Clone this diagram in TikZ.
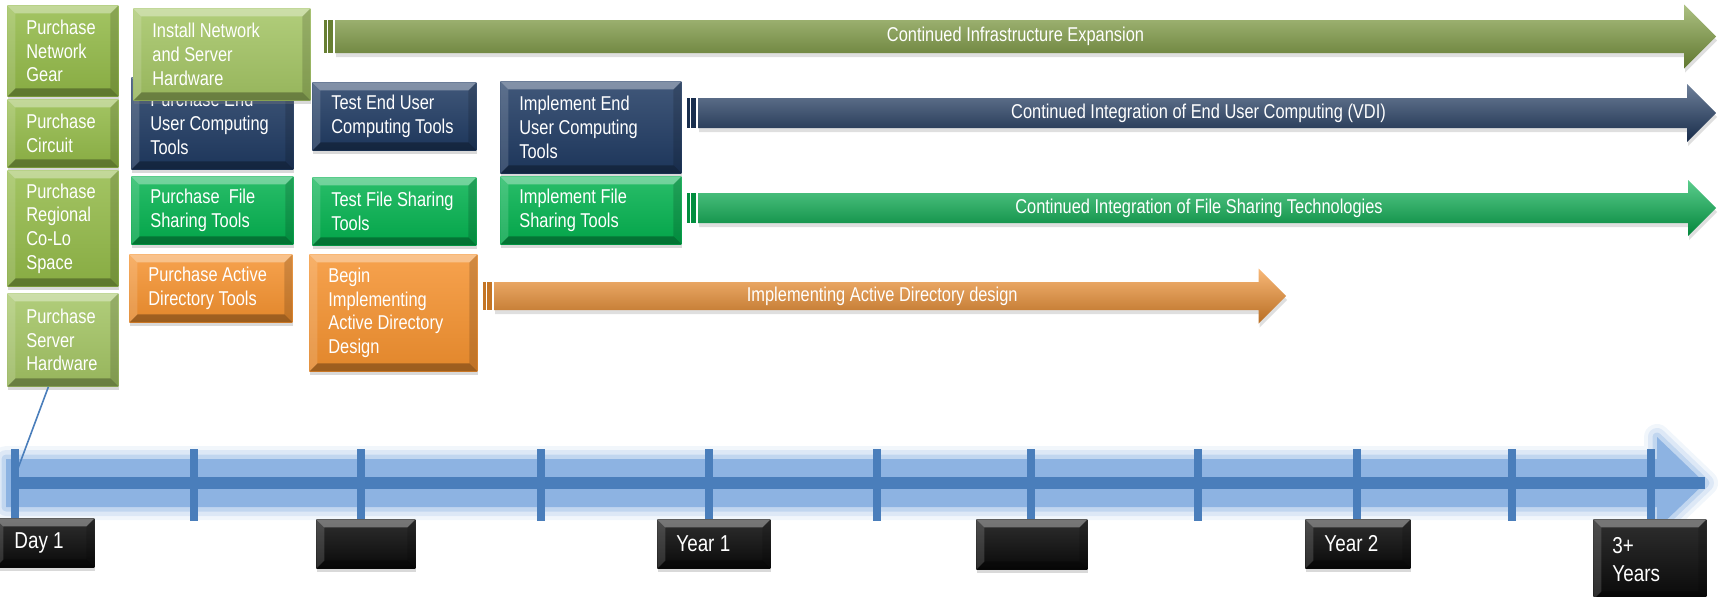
\documentclass[tikz,border=0pt]{standalone}
\usepackage{fontspec}
\setmainfont[FakeStretch=0.82]{Liberation Sans}
\usepackage{tikz}
\usetikzlibrary{calc,shadows}

\definecolor{infragreen}{HTML}{93BA48}
\definecolor{infradark}{HTML}{809F3F}
\definecolor{eucnavy}{HTML}{1F3A62}
\definecolor{filegreen}{HTML}{03B24F}
\definecolor{adorange}{HTML}{F5922F}
\definecolor{milebox}{HTML}{0A0A0A}
\definecolor{tlblue}{HTML}{4A7EBB}
\definecolor{tlband}{HTML}{8DB3E2}

\tikzset{
	bevel/.style={path picture={
		\coordinate (pnw) at (path picture bounding box.north west);
		\coordinate (pse) at (path picture bounding box.south east);
		\fill[white,opacity=.35] (pnw) -- (pse|-pnw) -- ($(pse|-pnw)+(-4pt,-4pt)$) -- ($(pnw)+(4pt,-4pt)$) -- cycle; %top
		\fill[black,opacity=.3] (pse) -- (pnw|-pse) -- ($(pnw|-pse)+(4pt,4pt)$) -- ($(pse)+(-4pt,4pt)$) -- cycle; %bottom
		\fill[white,opacity=.15] (pnw) -- ($(pnw)+(4pt,-4pt)$) -- ($(pnw|-pse)+(4pt,4pt)$) -- (pnw|-pse) -- cycle; %left
		\fill[black,opacity=.15] (pse) -- ($(pse)+(-4pt,4pt)$) -- ($(pse|-pnw)+(-4pt,-4pt)$) -- (pse|-pnw) -- cycle; %right
	}},
	task/.style={anchor=north west, rectangle, inner sep=0pt, top color=#1!85!white, bottom color=#1!92!black, bevel,
		drop shadow={shadow xshift=.5pt, shadow yshift=-2pt, opacity=.3}},
	mile/.style={task=milebox},
	tasktext/.style={anchor=west, inner sep=0pt, align=left, text=white, font=\fontsize{10}{11.85}\selectfont},
	miletext/.style={tasktext, font=\fontsize{11.5}{13.8}\selectfont},
	arrowlabel/.style={text=white, font=\fontsize{10}{11.85}\selectfont},
}

\begin{document}
\begin{tikzpicture}[x=0.5pt,y=-0.5pt]
	\newcommand{\taskbox}[8]{% name, style, text style, x1, y1, x2, y2, text
		\pgfmathsetlengthmacro{\boxw}{(#6-#4)*0.5pt}%
		\pgfmathsetlengthmacro{\boxh}{(#7-#5)*0.5pt}%
		\node[#2, minimum width=\boxw, minimum height=\boxh] (#1) at (#4,#5) {};
		\node[#3] (#1-text) at ([xshift=9.5pt]#1.west) {#8};}
	\newcommand{\blockarrow}[8]{% name, colour, start, tip, centre, shaft, head, label
		\fill[#2!80!black] (#3-11,#5-#6) rectangle (#3-8,#5+#6);
		\fill[#2!80!black] (#3-7,#5-#6) rectangle (#3-2,#5+#6);
		\shade[top color=#2!65!white, middle color=#2, bottom color=#2!75!black, drop shadow={shadow xshift=.5pt, shadow yshift=-2pt, opacity=.25}]
			(#3,#5-#6) -- (#4-#7,#5-#6) -- (#4-#7,#5-#7) -- (#4,#5) -- (#4-#7,#5+#7) -- (#4-#7,#5+#6) -- (#3,#5+#6) -- cycle;
		\node[arrowlabel] (#1) at ({(#3+#4-#7)/2+6},#5) {#8};}
	\useasboundingbox (0,0) rectangle (1723,596);

	\fill[tlband, preaction={draw=tlband, opacity=.12, line width=13pt, line join=round},
		preaction={draw=tlband, opacity=.2, line width=9pt, line join=round},
		preaction={draw=tlband, opacity=.35, line width=4.5pt, line join=round}]
		(6,459) -- (1657,459) -- (1657,437) -- (1705,483) -- (1657,529) -- (1657,507) -- (6,507) -- cycle; %band
	\draw[tlblue, line width=6pt] (15,483) -- (1705,483); %time line
	\foreach \t in {15,194,361,541,709,877,1031,1198,1357,1512,1651}
		\draw[tlblue, line width=4pt] (\t,449) -- (\t,521); %ticks
	\coordinate (d1) at (17,471);

	\blockarrow{infra}{infradark}{335}{1716}{36.5}{16.5}{32}{Continued Infrastructure Expansion}
	\blockarrow{eucline}{eucnavy}{698}{1716}{113}{15}{29}{Continued Integration of End User Computing (VDI)}
	\blockarrow{fileline}{filegreen}{698}{1716}{208}{15}{28}{Continued Integration of File Sharing Technologies}
	\blockarrow{adline}{adorange}{494}{1286}{296}{14}{27.5}{Implementing Active Directory design}

	\taskbox{netgear}{task=infragreen}{tasktext}{7}{5}{118}{96}{Purchase\\Network\\Gear}
	\taskbox{circuit}{task=infragreen}{tasktext}{7}{99}{118}{167}{Purchase\\Circuit}
	\taskbox{colo}{task=infragreen}{tasktext}{7}{170}{118}{286}{Purchase\\Regional\\Co-Lo\\Space}
	\taskbox{server}{task=infragreen!85!white}{tasktext}{7}{293}{118}{386}{Purchase\\Server\\Hardware}

	\taskbox{eucbuy}{task=eucnavy}{tasktext}{131}{77}{293}{169}{Purchase End\\User Computing\\Tools}
	\taskbox{install}{task=infragreen!85!white}{tasktext}{133}{8}{310}{100}{Install Network\\and Server\\Hardware}
	\taskbox{filebuy}{task=filegreen}{tasktext}{131}{176}{293}{244}{Purchase~ File\\Sharing Tools}
	\taskbox{adbuy}{task=adorange}{tasktext}{129}{254}{292}{322}{Purchase Active\\Directory Tools}

	\taskbox{euctest}{task=eucnavy}{tasktext}{312}{82}{476}{150}{Test End User\\Computing Tools}
	\taskbox{filetest}{task=filegreen}{tasktext}{312}{177}{476}{245}{Test File Sharing\\Tools}
	\taskbox{adbegin}{task=adorange}{tasktext}{309}{254}{477}{371}{Begin\\Implementing\\Active Directory\\Design}

	\taskbox{eucimpl}{task=eucnavy}{tasktext}{500}{81}{681}{173}{Implement End\\User Computing\\Tools}
	\taskbox{fileimpl}{task=filegreen}{tasktext}{500}{176}{681}{244}{Implement File\\Sharing Tools}

	\taskbox{day1}{mile}{miletext}{-5}{518}{94}{567}{Day 1}
	\taskbox{mq2}{mile}{miletext}{316}{519}{415}{568}{}
	\taskbox{year1}{mile}{miletext}{657}{519}{770}{568}{Year 1}
	\taskbox{mq6}{mile}{miletext}{976}{519}{1087}{569}{}
	\taskbox{year2}{mile}{miletext}{1305}{519}{1410}{568}{Year 2}
	\taskbox{year3}{mile}{miletext}{1593}{519}{1706}{599}{3+\\Years}

	\draw[tlblue, line width=.8pt] ([xshift=-7.25pt]server.south) -- (d1); %to day 1
\end{tikzpicture}
\end{document}
